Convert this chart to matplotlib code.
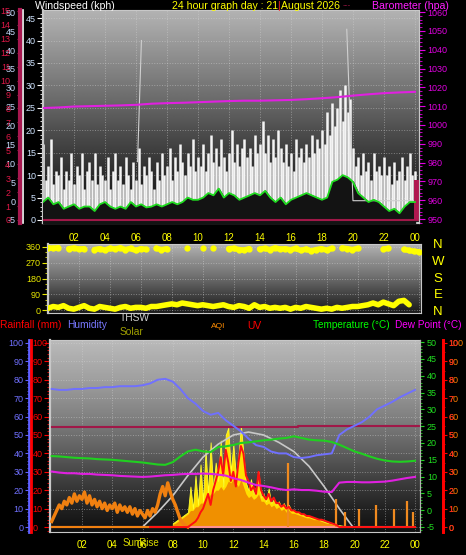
import numpy as np
import matplotlib.pyplot as plt
from matplotlib.ticker import MultipleLocator

plt.rcParams["axes.unicode_minus"] = False
plt.rcParams["font.family"] = ["Liberation Sans", "DejaVu Sans"]

nan = float("nan")

# ============================================================
# DATA
# ============================================================

# wind gust (kph), 10 minute steps 00:00 -> 24:00
gust_kph = [
    17, 9, 12, 18, 8, 11,
    10, 14, 7, 11, 9, 15,
    8, 12, 10, 15, 7, 11,
    13, 9, 15, 8, 12, 10,
    9, 14, 7, 11, 15, 9,
    12, 8, 14, 10, 7, 13,
    9, 16, 8, 12, 10, 14,
    11, 7, 13, 9, 15, 10,
    12, 16, 9, 14, 11, 17,
    13, 10, 15, 12, 18, 11,
    14, 12, 17, 11, 15, 19,
    13, 16, 12, 18, 14, 11,
    15, 20, 13, 17, 12, 16,
    18, 14, 16, 12, 19, 15,
    17, 22, 15, 19, 13, 18,
    14, 20, 16, 13, 17, 12,
    15, 11, 18, 14, 16, 13,
    17, 14, 19, 15, 18, 16,
    20, 17, 24, 19, 26, 21,
    25, 29, 22, 30, 24, 27,
    16, 12, 14, 10, 15, 11,
    13, 9, 15, 11, 12, 10,
    14, 10, 12, 8, 13, 9,
    11, 14, 9, 12, 15, 10,
    11,
]

# average wind (kph), 20 minute steps
avg_kph = [
    4, 5, 3.5, 4, 2.5, 3, 3.5, 2.5, 3, 3, 2, 3.5,
    4, 3, 2.5, 3, 2.5, 4, 3, 3.5, 2.8, 3, 3.5, 3,
    3.5, 4, 3.5, 4, 5, 4.5, 4.5, 5, 6, 5.5, 7, 5,
    6, 5.5, 4.5, 5, 5.5, 6, 5.5, 6.5, 5, 4, 5, 3.5,
    4.5, 5, 5.5, 6, 5.5, 5, 4.5, 5, 8.5, 9, 10, 9.5,
    8.5, 6, 5, 4, 4.5, 4, 3, 2, 2.5, 1.5, 3, 4,
    4,
]

# barometer (hpa), hourly
baro_hpa = [
    1009.0, 1009.3, 1009.8, 1010.0, 1010.2, 1010.4, 1010.7, 1011.3,
    1011.6, 1011.8, 1012.1, 1012.4, 1012.7, 1012.9, 1012.9, 1013.1,
    1013.3, 1013.7, 1014.2, 1014.8, 1015.6, 1016.3, 1016.9, 1017.3,
    1017.6,
]

# sunrise / sunset marker traces in the wind panel
sun_hours = [6.1, 6.35, nan, 19.6, 20.0, 24.3]
sun_kph = [13, 40, nan, 42.5, 4.3, 4.3]

rain_rate_hours = [24.1]
rain_rate = [9]

# wind direction (deg), 20 minute steps
dir_low = [
    10, 20, 15, 25, 10, 5, 15, 25, 10, 5, 20, 15,
    10, 5, 15, 20, 10, 15, 15, 10, 20, 20, 25, 30,
    35, 30, 40, 35, 30, 25, 30, 25, 20, 25, 30, 20,
    15, 25, 20, 10, 30, 15, 20, 10, 15, 10, 15, 5,
    15, 10, 20, 15, 10, 5, 10, 5, 15, 10, 15, 20,
    20, 25, 30, 40, 30, 45, 35, 25, 50, 55, 30, nan,
    nan,
]
dir_high = [
    355, 352, 356, nan, 350, 354, 348, 350, nan, 345, 350, 342,
    352, 348, 355, 345, 352, 340, 350, 346, nan, 352, 345, 350,
    nan, nan, nan, 355, nan, nan, 352, nan, 356, nan, nan, 350,
    352, 345, 342, 350, nan, 348, 352, 345, 355, 348, 350, 344,
    352, 340, 348, 338, 345, 350, 342, 352, nan, 354, 350, 345,
    352, nan, nan, nan, nan, 348, 352, nan, nan, 346, 340, 335,
    332,
]

# humidity (%), temperature and dew point (C), half hourly
humidity = [
    75, 74.5, 74.5, 75, 75, 75.5, 75.5, 76, 76, 76.5, 76.5, 76.5,
    77, 78, 80, 80.5, 79, 75, 70, 67, 63, 61, 62, 58,
    55, 52, 48, 44.5, 43.5, 41, 40, 40, 38, 37.5, 38, 39,
    39.5, 40, 50, 53, 55, 57, 60, 64, 66, 68, 70.5, 72.5,
    74.5,
]
temperature = [
    16.1, 16.0, 15.8, 15.6, 15.5, 15.4, 15.2, 15.1, 15.0, 14.8, 14.6, 14.4,
    14.2, 13.9, 13.6, 13.5, 14.3, 16.0, 17.5, 18.0, 17.5, 17.3, 18.8, 19.0,
    19.4, 20.0, 20.2, 20.5, 20.8, 21.0, 21.3, 21.5, 22.0, 21.5, 21.0, 20.8,
    20.7, 20.3, 19.5, 18.5, 17.5, 16.8, 16.0, 15.3, 14.8, 14.5, 14.4, 14.5,
    14.7,
]
dew_point = [
    11.5, 11.2, 11.0, 11.0, 10.8, 10.8, 10.6, 10.5, 10.4, 10.2, 10.1, 10.0,
    9.9, 10.0, 10.2, 10.4, 10.5, 10.7, 10.8, 10.8, 10.9, 10.8, 10.6, 10.3,
    9.5, 9.0, 8.2, 7.5, 7.2, 6.8, 6.3, 6.0, 6.2, 6.0, 6.0, 5.8,
    5.5, 5.4, 8.2, 8.4, 8.4, 8.3, 8.3, 8.4, 8.5, 8.8, 9.2, 9.6,
    9.9,
]

# rainfall total (mm), hourly
rain_mm = [0] * 25
rain_line_hours = [0, 16.3, 16.3, 24.3]
rain_line_mm = [54.3, 54.3, 55.0, 55.0]

# solar, 10 minute steps 08:00 -> 20:00 (chart scale 0-100)
solar = [
    2, 3, 4, 5, 6, 7,
    8, 22, 10, 28, 12, 34,
    14, 42, 18, 46, 20, 35,
    25, 47, 22, 50, 54, 30,
    45, 28, 38, 55, 40, 24,
    20, 26, 18, 22, 30, 16,
    18, 14, 21, 13, 15, 12,
    14, 11, 13, 10, 12, 9,
    9, 8, 7.5, 7, 6.5, 6,
    6, 5, 5, 4.5, 4, 3.5,
    3, 2.5, 2, 2, 1.5, 1,
    1, 0.8, 0.5, 0.5, 0.3, 0.2,
    0,
]
solar_base = [
    1.5, 2, 3, 4, 5, 6,
    7, 9, 9, 11, 11, 13,
    13, 16, 16, 18, 18, 20,
    20, 22, 20, 22, 25, 24,
    26, 24, 22, 26, 22, 18,
    16, 17, 15, 16, 18, 14,
    14, 12, 13, 11, 12, 10,
    11, 9, 10, 8, 9, 7.5,
    7.5, 7, 6.5, 6, 5.5, 5,
    5, 4.5, 4, 4, 3.5, 3,
    2.5, 2, 2, 1.5, 1, 1,
    0.8, 0.5, 0.4, 0.3, 0.2, 0.1,
    0,
]

# theoretical solar curve (chart scale 0-100)
solar_max_hours = [6.0, 7, 8, 9, 10, 11, 12, 13, 14, 15, 16, 17, 18, 19, 19.9]
solar_max = [0, 8, 17, 28, 38, 45, 50, 51.6, 50, 46, 41, 33, 22, 10, 0]

# UV index, 10 minute steps 06:30 -> 24:00
uv_index = [0.0] * 15 + [
    0, 0.1, 0.2, 0.3, 0.5, 0.8,
    1.0, 1.4, 1.8, 1.2, 2.0, 2.5,
    3.0, 3.8, 2.8, 4.2, 3.5, 2.5,
    3.0, 2.2, 3.5, 4.4, 4.0, 2.8,
    2.5, 2.0, 2.2, 1.8, 3.0, 2.0,
    1.7, 1.5, 1.8, 1.4, 1.6, 1.3,
    1.3, 1.1, 1.2, 1.0, 1.1, 0.9,
    0.9, 0.8, 0.8, 0.7, 0.7, 0.6,
    0.6, 0.55, 0.5, 0.45, 0.4, 0.4,
    0.35, 0.3, 0.25, 0.2, 0.15, 0.1,
    0,
] + [0.0] * 30

# AQI, 10 minute steps 00:00 -> 09:00
aqi = [
    3, 6, 9, 12, 10, 14,
    12, 16, 13, 18, 14, 17,
    15, 19, 13, 17, 12, 15,
    11, 14, 10, 13, 9, 12,
    10, 13, 8, 12, 9, 11,
    8, 11, 7, 10, 6, 9,
    7, 5, 9, 6, 10, 8,
    12, 18, 22, 17, 24, 19,
    15, 12, 8, 4, 2, 1,
    0,
]
aqi_spike_hours = [15.6, 18.8, 19.4, 20.3, 21.4, 22.6, 23.5, 23.9]
aqi_spikes = [35, 15, 8, 10, 12, 10, 14, 8]

sunrise_hour = 5.9

hour_ticks = list(range(2, 25, 2))
hour_labels = [f"{h % 24:02d}" for h in hour_ticks]

# ============================================================
# FIGURE
# ============================================================

W, H = 466, 555
fig = plt.figure(figsize=(W / 100, H / 100), dpi=100, facecolor="black")


def panel(x0, y0, x1, y1):
    ax = fig.add_axes([x0 / W, 1 - y1 / H, (x1 - x0) / W, (y1 - y0) / H])
    ax.set_facecolor("black")
    return ax


def shade(ax, stops, levels):
    ys = np.linspace(0, 1, 300)
    g = np.interp(ys, stops, levels)[::-1].reshape(-1, 1)
    ax.imshow(g, extent=[0, 1, 0, 1], transform=ax.transAxes, aspect="auto",
              cmap="gray", vmin=0, vmax=1, zorder=0, interpolation="bilinear")


def dotted_grid(ax):
    ax.grid(True, color="#d8d8d8", linestyle=":", linewidth=0.7, alpha=0.45)


def hide_spines(ax, keep=()):
    for name, sp in ax.spines.items():
        sp.set_visible(name in keep)


# ---------------- top panel: wind + barometer ----------------
ax1 = panel(43, 10, 419, 223)
shade(ax1, [0, .04, .16, .3, .44, .58, .77, .95, 1],
      [.07, .08, .13, .22, .31, .42, .55, .67, .7])

t_gust = np.linspace(0, 24, len(gust_kph))
t_avg = np.linspace(0, 24, len(avg_kph))
ax1.vlines(t_gust, 0, gust_kph, color="#f4f4f4", lw=1.8, zorder=2)
ax1.fill_between(t_avg, avg_kph, -1, color="#131313", zorder=3)
ax1.plot(t_avg, avg_kph, color="#20dd20", lw=1.3, zorder=4)
ax1.plot(sun_hours, sun_kph, color="#d0d0d0", lw=0.8, zorder=3)
ax1.axhline(0, color="#a01848", lw=1.5, zorder=3)
ax1.bar(rain_rate_hours, rain_rate, width=0.3, color="#b01850", zorder=3)

ax1.set_xlim(0, 24.26)
ax1.set_ylim(-0.67, 46.8)
ax1.set_xticks(hour_ticks)
ax1.set_xticklabels(hour_labels)
ax1.yaxis.set_major_locator(MultipleLocator(5))
ax1.yaxis.set_minor_locator(MultipleLocator(1))
ax1.tick_params(axis="x", length=0, pad=7, labelsize=7, labelcolor="#ffff00")
ax1.tick_params(axis="y", which="major", colors="white", labelcolor="#d0e4ff",
                length=4, labelsize=6.5, pad=1)
ax1.tick_params(axis="y", which="minor", colors="white", length=2)
dotted_grid(ax1)
for sp in ax1.spines.values():
    sp.set_color("#c8c8c8")
ax1.spines["left"].set_linewidth(1.6)
ax1.spines["bottom"].set_linewidth(1.6)

axb = ax1.twinx()
axb.plot(np.linspace(0, 24, len(baro_hpa)), baro_hpa, color="#e020e0", lw=1.5)
axb.set_ylim(947.9, 1061.1)
axb.yaxis.set_major_locator(MultipleLocator(10))
axb.yaxis.set_minor_locator(MultipleLocator(2))
axb.tick_params(axis="y", which="major", colors="#e000e0", length=4,
                labelsize=6.5, pad=2)
axb.tick_params(axis="y", which="minor", colors="#e000e0", length=2)
hide_spines(axb, keep=("right",))
axb.spines["right"].set_color("#c8c8c8")

# far-left scales
axfl = ax1.twinx()
axfl.set_ylim(-5.8, 50.6)
hide_spines(axfl, keep=("left",))
axfl.spines["left"].set_position(("axes", -0.0532))
axfl.spines["left"].set_color("white")
axfl.spines["left"].set_linewidth(1.2)
axfl.yaxis.set_ticks_position("left")
axfl.set_yticks(range(-5, 51, 5))
axfl.tick_params(axis="y", length=0, pad=5.5, labelsize=6.5, labelcolor="#c8dcff")

axbf = ax1.twinx()
axbf.set_ylim(-0.22, 15.07)
hide_spines(axbf, keep=("left",))
axbf.spines["left"].set_position(("axes", -0.0612))
axbf.spines["left"].set_color("#a81850")
axbf.spines["left"].set_linewidth(3)
axbf.yaxis.set_ticks_position("left")
axbf.set_yticks(range(0, 16))
axbf.tick_params(axis="y", colors="#a81850", labelcolor="#e01848",
                 length=2, pad=5, labelsize=6.5)

# ---------------- middle panel: wind direction ----------------
ax2 = panel(48, 244, 421, 313)
shade(ax2, [0, .1, .3, .55, .8, 1], [.1, .16, .28, .45, .58, .7])
t_dir = np.linspace(0, 24, len(dir_low))
ax2.plot(t_dir, dir_low, color="#ffff00", lw=4, solid_capstyle="round", zorder=3)
ax2.plot(t_dir, dir_high, color="#ffff00", lw=4, marker="o", ms=3.5,
         solid_capstyle="round", zorder=3)
ax2.set_xlim(0, 24.1)
ax2.set_ylim(-17, 377)
ax2.set_xticks(hour_ticks)
ax2.set_xticklabels([])
ax2.set_yticks([0, 90, 180, 270, 360])
ax2.yaxis.set_minor_locator(MultipleLocator(30))
ax2.tick_params(axis="x", length=0)
ax2.tick_params(axis="y", which="major", colors="#e8e800", length=4,
                labelsize=6.5, pad=1)
ax2.tick_params(axis="y", which="minor", colors="#e8e800", length=2)
dotted_grid(ax2)
for sp in ax2.spines.values():
    sp.set_color("#c8c8c8")
ax2.spines["left"].set_linewidth(1.6)

for i, d in enumerate(["N", "W", "S", "E", "N"]):
    fig.text(438 / W, 1 - (245 + 16.8 * i) / H, d, color="#ffff00",
             fontsize=9.5, ha="center", va="center")

# ---------------- bottom panel ----------------
ax3 = panel(50, 340, 420, 532)
shade(ax3, [0, .03, .12, .27, .43, .59, .8, .98, 1],
      [.06, .08, .13, .25, .38, .5, .63, .72, .73])

t_solar = np.linspace(8, 20, len(solar))
ax3.fill_between(t_solar, solar, 0, color="#ffe000", lw=0.6,
                 edgecolor="#ffff30", zorder=2)
ax3.fill_between(t_solar, solar_base, 0, color="#f09000", lw=0, zorder=2)
ax3.plot(solar_max_hours, solar_max, color="#c8c8c8", lw=1.2, zorder=4)
ax3.plot(rain_line_hours, rain_line_mm, color="#a01848", lw=1.5, zorder=4)
ax3.plot(np.linspace(0, 24, len(rain_mm)), rain_mm, color="#ff9090",
         lw=1.5, zorder=3)
ax3.set_xlim(-0.11, 24.33)
ax3.set_ylim(-2.7, 101.6)
ax3.set_xticks(hour_ticks)
ax3.set_xticklabels(hour_labels)
ax3.yaxis.set_major_locator(MultipleLocator(10))
ax3.yaxis.set_minor_locator(MultipleLocator(2))
ax3.tick_params(axis="x", length=0, pad=6, labelsize=7, labelcolor="#ffff00")
ax3.tick_params(axis="y", which="both", colors="#ff0000", labelleft=False)
ax3.tick_params(axis="y", which="major", length=4)
ax3.tick_params(axis="y", which="minor", length=2)
dotted_grid(ax3)
for sp in ax3.spines.values():
    sp.set_color("#c8c8c8")
ax3.spines["left"].set_linewidth(1.6)
ax3.text(sunrise_hour, -0.058, "SunRise", transform=ax3.get_xaxis_transform(),
         color="#d8d800", fontsize=7, ha="center", va="center")

# AQI
ax_aqi = ax3.twinx()
t_aqi = np.linspace(0, 9, len(aqi))
ax_aqi.plot(t_aqi, aqi, color="#f08010", lw=2.4)
ax_aqi.plot([0, 9], [0, 0], color="#f08010", lw=1.5)
ax_aqi.vlines(aqi_spike_hours, 0, aqi_spikes, color="#f08a20", lw=1.6)
ax_aqi.set_ylim(-2.7, 101.6)
hide_spines(ax_aqi, keep=("right",))
ax_aqi.spines["right"].set_position(("axes", 1.0622))
ax_aqi.spines["right"].set_color("#ff0000")
ax_aqi.spines["right"].set_linewidth(2)
ax_aqi.set_yticks(range(0, 101, 10))
ax_aqi.tick_params(axis="y", length=0, pad=4, labelsize=6.5, labelcolor="#ff8000")

# UV
ax_uv = ax3.twinx()
t_uv = np.linspace(6.5, 24, len(uv_index))
ax_uv.plot(t_uv, uv_index, color="#ff1010", lw=1.4)
ax_uv.set_ylim(-0.27, 10.16)
hide_spines(ax_uv, keep=("right",))
ax_uv.spines["right"].set_position(("axes", 1.0622))
ax_uv.spines["right"].set_color("#ff0000")
ax_uv.spines["right"].set_linewidth(2)
ax_uv.set_yticks(range(0, 11))
ax_uv.yaxis.set_minor_locator(MultipleLocator(0.5))
ax_uv.tick_params(axis="y", which="major", colors="#ff0000", length=3,
                  pad=1, labelsize=6.5, labelcolor="#ff2020")
ax_uv.tick_params(axis="y", which="minor", colors="#ff0000", length=1.5)

# humidity
ax_h = ax3.twinx()
ax_h.plot(np.linspace(0, 24, len(humidity)), humidity, color="#7070ff", lw=1.4)
ax_h.set_ylim(-2.7, 101.6)
hide_spines(ax_h, keep=("left",))
ax_h.spines["left"].set_position(("axes", -0.0568))
ax_h.spines["left"].set_color("#6060ff")
ax_h.spines["left"].set_linewidth(2)
ax_h.yaxis.set_ticks_position("left")
ax_h.yaxis.set_major_locator(MultipleLocator(10))
ax_h.yaxis.set_minor_locator(MultipleLocator(2))
ax_h.tick_params(axis="y", which="major", colors="#6060ff", length=3,
                 pad=1, labelsize=6.5, labelcolor="#7070ff")
ax_h.tick_params(axis="y", which="minor", colors="#6060ff", length=1.5)

# temperature / dew point
ax_t = ax3.twinx()
t_half = np.linspace(0, 24, len(temperature))
ax_t.plot(t_half, temperature, color="#20d020", lw=1.5)
ax_t.plot(t_half, dew_point, color="#e020e0", lw=1.5)
ax_t.set_ylim(-6.49, 50.65)
hide_spines(ax_t, keep=("right",))
ax_t.spines["right"].set_color("#b0b0b0")
ax_t.yaxis.set_major_locator(MultipleLocator(5))
ax_t.yaxis.set_minor_locator(MultipleLocator(1))
ax_t.tick_params(axis="y", which="major", colors="#20d020", length=3,
                 pad=2, labelsize=6.5, labelcolor="#20e020")
ax_t.tick_params(axis="y", which="minor", colors="#20d020", length=1.5)

# rainfall scale
ax_r = ax3.twinx()
ax_r.set_ylim(-2.7, 101.6)
hide_spines(ax_r, keep=("right",))
ax_r.spines["right"].set_position(("axes", -0.0514))
ax_r.spines["right"].set_color("#ff0000")
ax_r.spines["right"].set_linewidth(2)
ax_r.set_yticks(range(0, 101, 10))
ax_r.tick_params(axis="y", length=0, pad=1, labelsize=6.5, labelcolor="#ff0000")

for z, a in enumerate([ax3, ax_aqi, ax_uv, ax_h, ax_t, ax_r]):
    a.set_zorder(z + 1)


# ---------------- header texts ----------------
def label(x, y, s, color, size=7.6):
    fig.text(x / W, 1 - y / H, s, color=color, fontsize=size, va="center")


label(35, 6, "Windspeed (kph)", "white")
label(172, 6, "24 hour graph day : 21", "#ffff00")
label(277, 6, "|", "#ff2020")
label(281, 6, "August 2026", "#ffff00")
label(343, 6, "---", "#a01848", 6)
label(372, 6, "Barometer (hpa)", "#ff20ff")

label(0, 325, "Rainfall (mm)", "#ff0000", 7.4)
label(67, 325, "Humidity", "#7878ff", 7.4)
label(120, 318, "THSW", "#d0d0d0", 7.4)
label(120, 332, "Solar", "#a0a000", 7.4)
label(211, 326, "AQI", "#ff8c00", 6)
label(247, 326, "UV", "#ff0000", 7.4)
label(313, 325, "Temperature (\u00b0C)", "#00ff00", 7.2)
label(395, 325, "Dew Point (\u00b0C)", "#ff00ff", 7.2)

fig.savefig("out.png", dpi=100, facecolor="black")
